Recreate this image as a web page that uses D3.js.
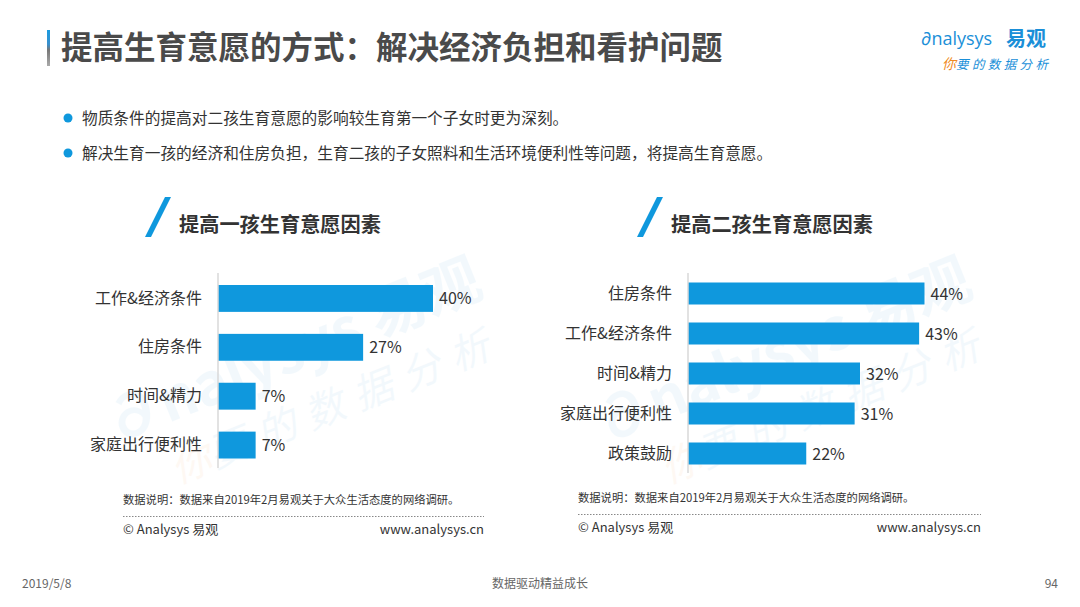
<!DOCTYPE html>
<html><head><meta charset="utf-8">
<script src="https://cdn.jsdelivr.net/npm/d3@7/dist/d3.min.js"></script>
<style>
html,body{margin:0;padding:0;background:#fff;}
svg{display:block;font-family:"Noto Sans CJK SC","Microsoft YaHei",sans-serif;}
</style></head>
<body>
<svg id="c" width="1080" height="607"></svg>
<script>
const title = "提高生育意愿的方式：解决经济负担和看护问题";
const bullets = ["物质条件的提高对二孩生育意愿的影响较生育第一个子女时更为深刻。",
                 "解决生育一孩的经济和住房负担，生育二孩的子女照料和生活环境便利性等问题，将提高生育意愿。"];
const chart1Title = "提高一孩生育意愿因素";
const chart1Cats = ["工作&经济条件","住房条件","时间&精力","家庭出行便利性"];
const chart1Vals = [40,27,7,7];
const chart2Title = "提高二孩生育意愿因素";
const chart2Cats = ["住房条件","工作&经济条件","时间&精力","家庭出行便利性","政策鼓励"];
const chart2Vals = [44,43,32,31,22];
const sourceNote = "数据说明：数据来自2019年2月易观关于大众生活态度的网络调研。";
const footerTexts = ["2019/5/8","数据驱动精益成长","94"];

const svg = d3.select("#c");
const BLUE = "#0f98dd";

// header
const grad = svg.append("defs").append("linearGradient").attr("id","hb").attr("x1",0).attr("x2",0).attr("y1",0).attr("y2",1);
grad.append("stop").attr("offset","0%").attr("stop-color","#1a9be0");
grad.append("stop").attr("offset","40%").attr("stop-color","#3a8fcc");
grad.append("stop").attr("offset","55%").attr("stop-color","#777");
grad.append("stop").attr("offset","100%").attr("stop-color","#aaa");
svg.append("rect").attr("x",47).attr("y",30).attr("width",3).attr("height",36).attr("fill","url(#hb)");
svg.append("text").attr("x",61).attr("y",59).attr("font-size",31.5).attr("font-weight","bold")
  .attr("fill","#4a4a4a").text(title);

// logo
const logo = svg.append("g");
logo.append("text").attr("x",921).attr("y",45).attr("font-size",18).attr("fill","#1a8fd8")
  .attr("font-family","Open Sans, sans-serif").text("\u2202nalysys");
logo.append("text").attr("x",1006).attr("y",46).attr("font-size",20).attr("font-weight","bold")
  .attr("fill","#1a8fd8").text("易观");
const sl = logo.append("text").attr("x",942).attr("y",69).attr("font-size",12.5).attr("font-style","italic");
sl.append("tspan").attr("fill","#f08a24").attr("font-size",14).text("你");
sl.append("tspan").attr("fill","#1a8fd8").attr("letter-spacing",3.4).text("要的数据分析");

// bullets
bullets.forEach((b,i)=>{
  const y = 118 + i*35;
  svg.append("circle").attr("cx",68).attr("cy",y).attr("r",4.5).attr("fill",BLUE);
  svg.append("text").attr("x",82).attr("y",y+5.5).attr("font-size",15.7).attr("fill","#333").text(b);
});

// watermarks
function watermark(cx, cy){
  const g = svg.append("g").attr("transform",`translate(${cx},${cy}) rotate(-22)`).attr("opacity",0.05);
  g.append("text").attr("x",0).attr("y",0).attr("text-anchor","middle").attr("font-size",58).attr("font-weight","bold")
    .attr("fill","#1a8fd8").text("\u2202nalysys 易观");
  const t = g.append("text").attr("x",20).attr("y",60).attr("text-anchor","middle").attr("font-size",40).attr("font-style","italic");
  t.append("tspan").attr("fill","#f08a24").text("你");
  t.append("tspan").attr("fill","#1a8fd8").attr("letter-spacing",12).text("要的数据分析");
}
watermark(300, 370);
watermark(790, 370);

const x = d3.scaleLinear().domain([0,44]).range([0,236.5]);

function drawChart(opt){
  const g = svg.append("g");
  // subtitle slash
  g.append("path").attr("d",`M${opt.sx},${opt.sy+40} L${opt.sx+6},${opt.sy+40} L${opt.sx+26},${opt.sy} L${opt.sx+20},${opt.sy} Z`).attr("fill",BLUE);
  g.append("text").attr("x",opt.tx).attr("y",opt.sy+35).attr("font-size",20.2).attr("font-weight","bold")
    .attr("fill","#333").text(opt.title);
  const y = d3.scaleBand().domain(opt.cats).range(opt.yr).paddingInner(0.45).paddingOuter(0.225);
  const data = opt.cats.map((c,i)=>({c, v: opt.vals[i]}));
  g.selectAll("rect.bar").data(data).join("rect").attr("class","bar")
    .attr("x",opt.x0).attr("y",d=>y(d.c)).attr("width",d=>x(d.v)).attr("height",y.bandwidth()).attr("fill",BLUE);
  g.selectAll("text.val").data(data).join("text").attr("class","val")
    .attr("x",d=>opt.x0+x(d.v)+6).attr("y",d=>y(d.c)+y.bandwidth()/2+6).attr("font-size",16).attr("fill","#333")
    .text(d=>d.v+"%");
  const ax = d3.axisLeft(y).tickSize(0).tickPadding(16);
  const axg = g.append("g").attr("transform",`translate(${opt.x0},0)`).call(ax);
  axg.select(".domain").attr("stroke","#d9d9d9").attr("stroke-width",1.5).attr("d",`M0,${opt.ax[0]}V${opt.ax[1]}`);
  axg.selectAll("text").attr("font-size",16).attr("fill","#333").attr("font-family","Noto Sans CJK SC, sans-serif");
  // notes
  g.append("text").attr("x",opt.nx).attr("y",opt.ny).attr("font-size",11.3).attr("fill","#333").text(sourceNote);
  g.append("line").attr("x1",opt.nx).attr("x2",opt.nr).attr("y1",opt.ny+12.5).attr("y2",opt.ny+12.5)
    .attr("stroke","#888").attr("stroke-width",1).attr("stroke-dasharray","1.5,1.5");
  g.append("text").attr("x",opt.nx).attr("y",opt.ny+30).attr("font-size",13).attr("fill","#333").text("© Analysys 易观");
  g.append("text").attr("x",opt.nr).attr("y",opt.ny+30).attr("text-anchor","end").attr("font-size",13).attr("fill","#333").text("www.analysys.cn");
}

drawChart({title:chart1Title, cats:chart1Cats, vals:chart1Vals, x0:218, yr:[274,469.5], ax:[273,468],
  sx:145, sy:197, tx:179, nx:123, ny:504, nr:484});
drawChart({title:chart2Title, cats:chart2Cats, vals:chart2Vals, x0:688, yr:[273.5,473.5], ax:[273,473],
  sx:637, sy:197, tx:671, nx:578, ny:502, nr:981});

// footer
svg.append("text").attr("x",22).attr("y",588).attr("font-size",12).attr("fill","#666").text(footerTexts[0]);
svg.append("text").attr("x",540).attr("y",588).attr("text-anchor","middle").attr("font-size",12).attr("fill","#666").text(footerTexts[1]);
svg.append("text").attr("x",1058).attr("y",588).attr("text-anchor","end").attr("font-size",12).attr("fill","#666").text(footerTexts[2]);
</script>
</body></html>
